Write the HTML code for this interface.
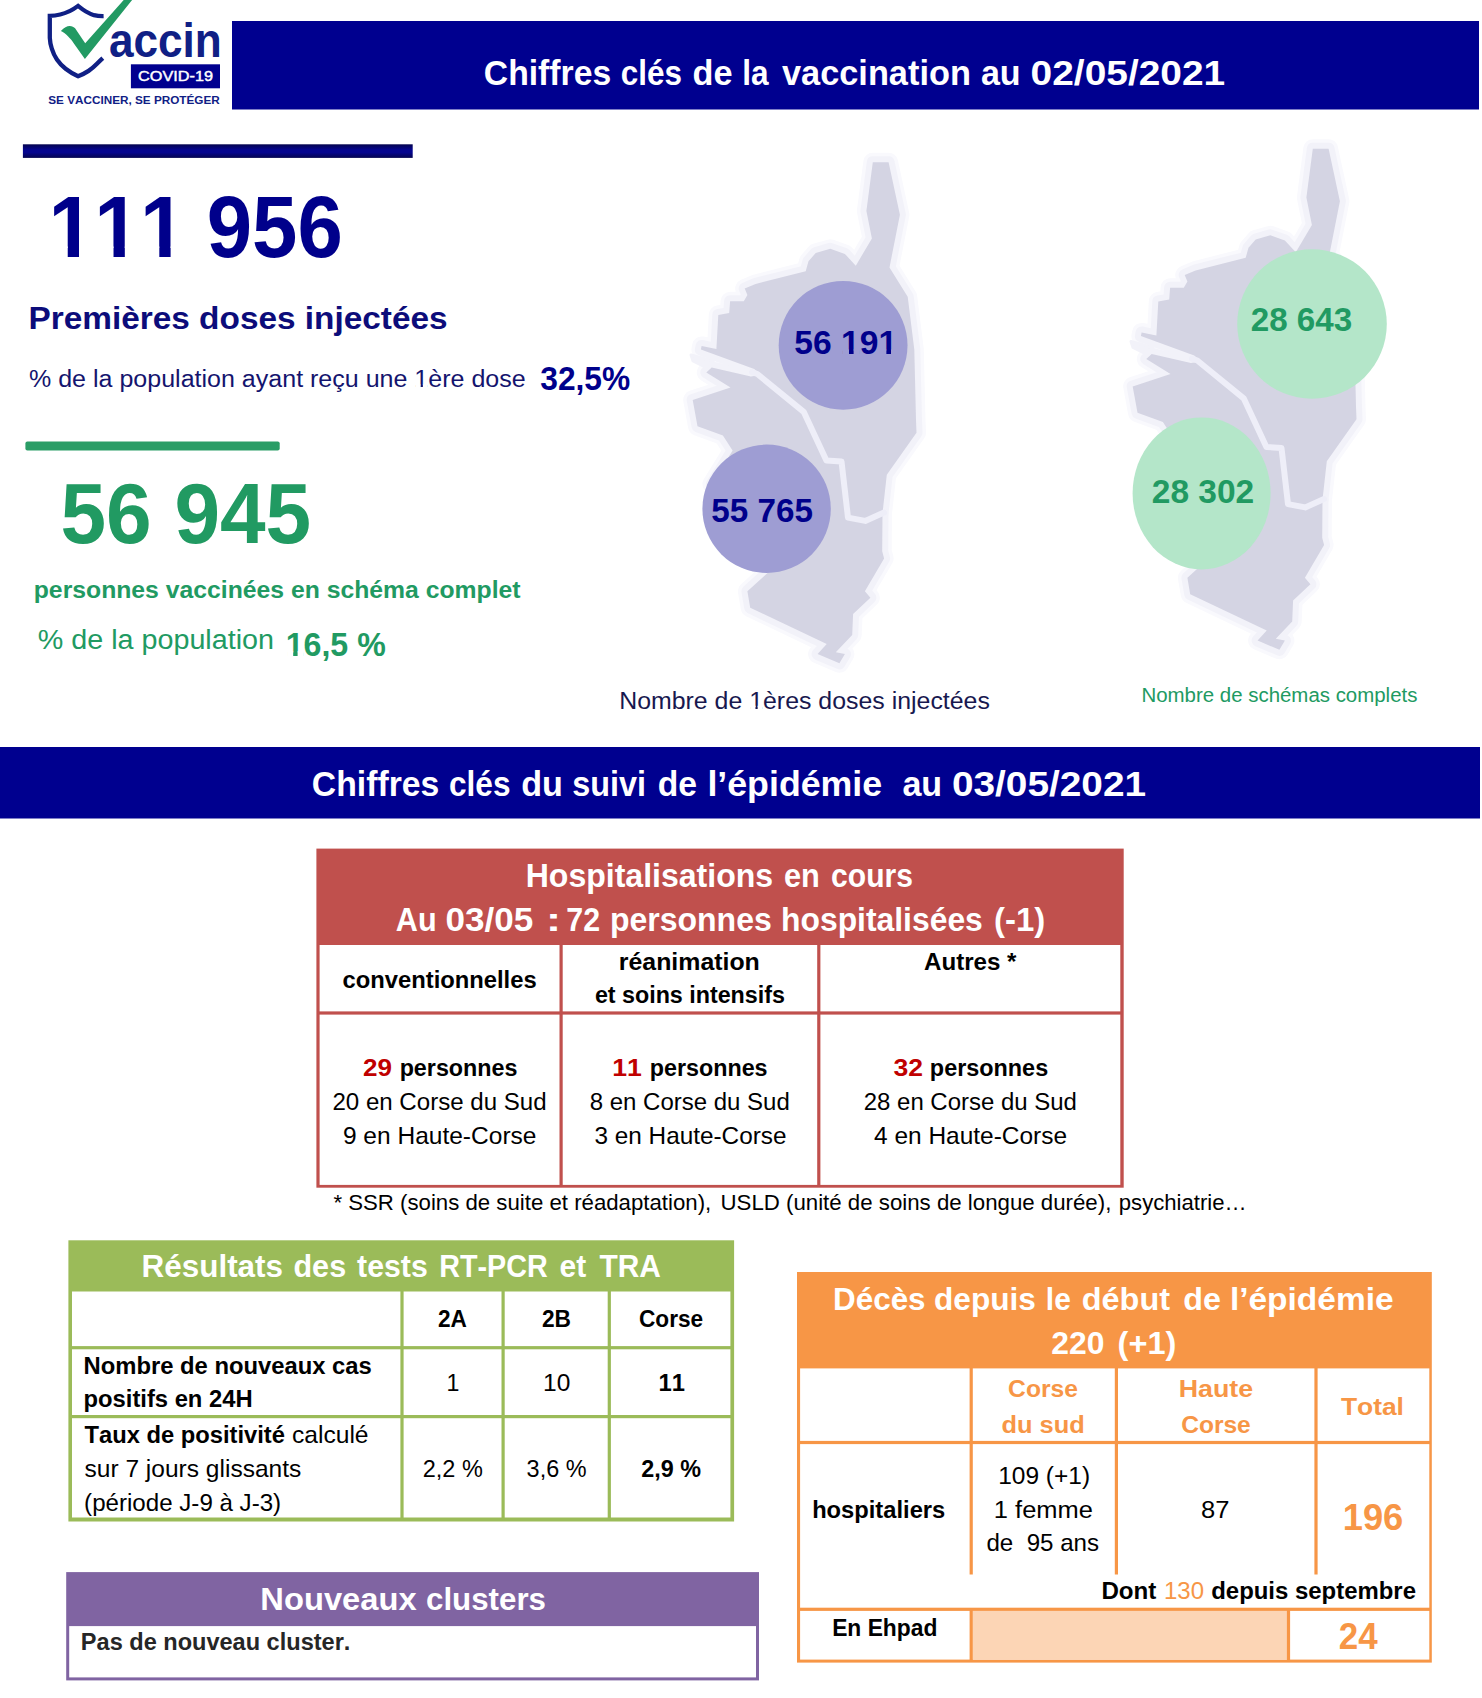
<!DOCTYPE html>
<html lang="fr"><head><meta charset="utf-8"><title>Chiffres clés COVID-19 Corse</title>
<style>
html,body{margin:0;padding:0;background:#fff}
body{width:1482px;height:1698px;overflow:hidden;font-family:"Liberation Sans",sans-serif}
svg{display:block;font-family:"Liberation Sans",sans-serif;font-kerning:none}
text{white-space:pre}
</style></head><body>
<svg width="1482" height="1698" viewBox="0 0 1482 1698">
<rect width="1482" height="1698" fill="#fff"/>

<rect x="232" y="21" width="1247" height="88.5" fill="#00008f"/>
<rect x="0" y="747" width="1480" height="71.5" fill="#00008f"/>
<linearGradient id="gbar" x1="0" y1="0" x2="0" y2="1"><stop offset="0" stop-color="#04044e"/><stop offset="0.4" stop-color="#05058e"/><stop offset="0.6" stop-color="#05058e"/><stop offset="1" stop-color="#04044e"/></linearGradient>
<rect x="22.9" y="144.3" width="389.8" height="13.6" fill="url(#gbar)"/>
<rect x="25.4" y="441.6" width="254.3" height="8.9" rx="2" fill="#2a9d66"/>
<!-- logo -->
<path d="M103.6 16.2 C100 16.3 97 16 94 15.2 C91 14.3 88.5 13 85.9 11.5 C83 9.8 80.5 7.8 78.1 5.9 C74 9 67 13 60.2 14.5 C56 15.5 53 15.8 49.8 15.9 L49.8 37.8 C50 42 50.6 45 51.8 48.6 C53 52.5 54.5 56 56.9 59.4 C59.3 62.8 62 66 65.6 68.8 C69 71.5 73 74 78.1 76.2 C82 74.7 85.5 73 88.6 70.9 C91.5 69 94.3 66.6 96.7 64.1 C98.8 62 100.8 60 102.8 58.2" fill="none" stroke="#102085" stroke-width="4.3" stroke-linejoin="miter" stroke-miterlimit="6" stroke-linecap="butt"/>
<path d="M60.9 31 C64 27.5 67 26 69.7 26 C72 26 74 27 75.1 28.3 L85.2 43.2 L123.7 0 L132.1 0 L84.9 59 L73.7 43.2 C71 39 66 33.5 60.9 31 Z" fill="#229a63"/>
<rect x="130.9" y="64.3" width="89.1" height="24" fill="#00008f"/>
<!-- maps -->
<defs><g id="corse">
<polygon points="872.8,162.2 888.6,162.2 899.9,214.7 889.5,267.5 907.7,296.7 914.3,349.5 916.0,420.0 916.5,432.8 886.8,474.7 882.5,513.3 865.2,520.9 848.0,517.6 841.5,461.5 826.4,460.4 803.7,411.8 759.0,373.2 754.2,369.1 700.9,349.6 701.6,345.9 716.4,349.1 718.3,314.9 729.2,313.1 730.1,301.2 743.8,301.2 747.4,294.9 744.7,288.5 755.6,283.9 805.7,271.2 808.5,261.2 815.7,253.0 830.3,248.8 844.9,253.9 855.8,265.7 871.9,238.4 866.4,211.1" fill="#f9f9fd" stroke="#f9f9fd" stroke-width="19" stroke-linejoin="round"/>
<polygon points="711.7,367.4 750.9,376.6 757.3,375.5 803.7,411.8 826.4,460.4 841.5,461.5 848.0,517.6 865.2,520.9 882.5,513.3 882.2,551.2 884.1,558.5 864.9,591.3 870.4,597.7 853.1,614.1 852.2,635.0 835.8,652.3 844.9,654.1 839.4,663.3 817.6,654.1 826.7,644.1 750.2,607.7 747.4,591.3 768.4,572.2 740.0,525.0 712.0,484.0 732.6,450.6 722.9,435.5 697.5,426.3 692.7,399.9 730.5,387.5 706.3,372.5" fill="#f9f9fd" stroke="#f9f9fd" stroke-width="19" stroke-linejoin="round"/>
<polygon points="691,355 713,361 713,371 693,361" fill="#f2f2f9" stroke="#f2f2f9" stroke-width="3" stroke-linejoin="round"/>
<polygon points="872.8,162.2 888.6,162.2 899.9,214.7 889.5,267.5 907.7,296.7 914.3,349.5 916.0,420.0 916.5,432.8 886.8,474.7 882.5,513.3 865.2,520.9 848.0,517.6 841.5,461.5 826.4,460.4 803.7,411.8 759.0,373.2 754.2,369.1 700.9,349.6 701.6,345.9 716.4,349.1 718.3,314.9 729.2,313.1 730.1,301.2 743.8,301.2 747.4,294.9 744.7,288.5 755.6,283.9 805.7,271.2 808.5,261.2 815.7,253.0 830.3,248.8 844.9,253.9 855.8,265.7 871.9,238.4 866.4,211.1" fill="#f2f2f9" stroke="#f2f2f9" stroke-width="12" stroke-linejoin="round"/>
<polygon points="711.7,367.4 750.9,376.6 757.3,375.5 803.7,411.8 826.4,460.4 841.5,461.5 848.0,517.6 865.2,520.9 882.5,513.3 882.2,551.2 884.1,558.5 864.9,591.3 870.4,597.7 853.1,614.1 852.2,635.0 835.8,652.3 844.9,654.1 839.4,663.3 817.6,654.1 826.7,644.1 750.2,607.7 747.4,591.3 768.4,572.2 740.0,525.0 712.0,484.0 732.6,450.6 722.9,435.5 697.5,426.3 692.7,399.9 730.5,387.5 706.3,372.5" fill="#f2f2f9" stroke="#f2f2f9" stroke-width="12" stroke-linejoin="round"/>
<polygon points="872.8,162.2 888.6,162.2 899.9,214.7 889.5,267.5 907.7,296.7 914.3,349.5 916.0,420.0 916.5,432.8 886.8,474.7 882.5,513.3 865.2,520.9 848.0,517.6 841.5,461.5 826.4,460.4 803.7,411.8 759.0,373.2 754.2,369.1 700.9,349.6 701.6,345.9 716.4,349.1 718.3,314.9 729.2,313.1 730.1,301.2 743.8,301.2 747.4,294.9 744.7,288.5 755.6,283.9 805.7,271.2 808.5,261.2 815.7,253.0 830.3,248.8 844.9,253.9 855.8,265.7 871.9,238.4 866.4,211.1" fill="#d4d4e3"/>
<polygon points="711.7,367.4 750.9,376.6 757.3,375.5 803.7,411.8 826.4,460.4 841.5,461.5 848.0,517.6 865.2,520.9 882.5,513.3 882.2,551.2 884.1,558.5 864.9,591.3 870.4,597.7 853.1,614.1 852.2,635.0 835.8,652.3 844.9,654.1 839.4,663.3 817.6,654.1 826.7,644.1 750.2,607.7 747.4,591.3 768.4,572.2 740.0,525.0 712.0,484.0 732.6,450.6 722.9,435.5 697.5,426.3 692.7,399.9 730.5,387.5 706.3,372.5" fill="#d4d4e3"/>
<polyline points="752.0,372.2 757.3,374.0 803.7,411.8 826.4,460.4 841.5,461.5 848.0,517.6 865.2,520.9 884.0,512.6" fill="none" stroke="#eeeef8" stroke-width="6" stroke-linejoin="round" stroke-linecap="round"/>
</g></defs>
<use href="#corse"/>
<use href="#corse" transform="translate(440,-13.5)"/>
<circle cx="843.1" cy="345.3" r="64.4" fill="#9e9dd3"/>
<circle cx="766.6" cy="508.8" r="64.2" fill="#9e9dd3"/>
<circle cx="1312" cy="324" r="74.8" fill="#b4e6c9"/>
<ellipse cx="1201.6" cy="493.4" rx="69" ry="76" fill="#b4e6c9"/>
<!-- red table -->
<rect x="316.4" y="848.6" width="807.3" height="339.1" fill="#c0504d"/>
<rect x="319.6" y="945" width="800.7" height="239.9" fill="#fff"/>
<rect x="559.5" y="945.0" width="3.2" height="241.0" fill="#c0504d"/><rect x="817.2" y="945.0" width="3.2" height="241.0" fill="#c0504d"/><rect x="318.0" y="1011.4" width="804.0" height="3.2" fill="#c0504d"/>
<!-- green table -->
<rect x="68.4" y="1240.3" width="665.7" height="281.2" fill="#9bbb59"/>
<rect x="72" y="1291.5" width="658.4" height="226" fill="#fff"/>
<rect x="400.4" y="1291.0" width="3.2" height="229.0" fill="#9bbb59"/><rect x="501.5" y="1291.0" width="3.2" height="229.0" fill="#9bbb59"/><rect x="607.7" y="1291.0" width="3.2" height="229.0" fill="#9bbb59"/><rect x="70.0" y="1346.1" width="663.0" height="3.2" fill="#9bbb59"/><rect x="70.0" y="1415.0" width="663.0" height="3.2" fill="#9bbb59"/>
<!-- purple -->
<rect x="66.2" y="1572.1" width="692.8" height="108.3" fill="#8064a2"/>
<rect x="69.2" y="1626.1" width="686.8" height="51.3" fill="#fff"/>
<!-- orange -->
<rect x="797" y="1272" width="634.8" height="390.6" fill="#f79646"/>
<rect x="800.1" y="1368.4" width="629.2" height="291.2" fill="#fff"/>
<rect x="972.7" y="1610.9" width="314.5" height="48.7" fill="#fcd5b5"/>
<rect x="969.6" y="1368.0" width="3.2" height="206.5" fill="#f79646"/><rect x="1114.8" y="1368.0" width="3.2" height="206.5" fill="#f79646"/><rect x="1314.4" y="1368.0" width="3.2" height="206.5" fill="#f79646"/><rect x="969.6" y="1609.0" width="3.2" height="51.0" fill="#f79646"/><rect x="1286.9" y="1609.0" width="3.2" height="51.0" fill="#f79646"/><rect x="799.0" y="1440.9" width="631.0" height="3.2" fill="#f79646"/><rect x="799.0" y="1607.7" width="631.0" height="3.2" fill="#f79646"/>

<defs><clipPath id="nf15"><path clip-rule="evenodd" d="M0 0H1482V1698H0ZM52.05 246.55H67.73V257.50H52.05ZM79.02 246.55H93.66V257.50H79.02ZM97.84 246.55H113.52V257.50H97.84ZM124.82 246.55H139.45V257.50H124.82ZM143.63 246.55H159.31V257.50H143.63ZM170.61 246.55H185.24V257.50H170.61Z"/></clipPath><clipPath id="nf18"><path clip-rule="evenodd" d="M0 0H1482V1698H0ZM415.78 384.44H420.66V388.20H415.78ZM422.88 384.44H427.57V388.20H422.88Z"/></clipPath><clipPath id="nf23"><path clip-rule="evenodd" d="M0 0H1482V1698H0ZM287.07 651.33H293.19V656.80H287.07ZM297.60 651.33H303.31V656.80H297.60Z"/></clipPath><clipPath id="nf24"><path clip-rule="evenodd" d="M0 0H1482V1698H0ZM842.57 349.43H848.98V354.80H842.57ZM853.59 349.43H859.57V354.80H853.59ZM879.98 349.43H886.38V354.80H879.98ZM890.99 349.43H896.97V354.80H890.99Z"/></clipPath><clipPath id="nf26"><path clip-rule="evenodd" d="M0 0H1482V1698H0ZM750.59 705.76H755.45V709.60H750.59ZM757.65 705.76H762.32V709.60H757.65Z"/></clipPath></defs>
<text x="483.85" y="84.50" font-size="35.60" font-weight="bold" fill="#fff" textLength="127.29" lengthAdjust="spacingAndGlyphs" xml:space="preserve">Chiffres</text>
<text x="620.82" y="84.50" font-size="35.60" font-weight="bold" fill="#fff" textLength="61.18" lengthAdjust="spacingAndGlyphs" xml:space="preserve">clés</text>
<text x="692.54" y="84.50" font-size="35.60" font-weight="bold" fill="#fff" textLength="40.02" lengthAdjust="spacingAndGlyphs" xml:space="preserve">de</text>
<text x="742.23" y="84.50" font-size="35.60" font-weight="bold" fill="#fff" textLength="26.30" lengthAdjust="spacingAndGlyphs" xml:space="preserve">la</text>
<text x="782.00" y="84.50" font-size="35.60" font-weight="bold" fill="#fff" textLength="188.87" lengthAdjust="spacingAndGlyphs" xml:space="preserve">vaccination</text>
<text x="980.94" y="84.50" font-size="35.60" font-weight="bold" fill="#fff" textLength="39.71" lengthAdjust="spacingAndGlyphs" xml:space="preserve">au</text>
<text x="1030.61" y="84.50" font-size="35.60" font-weight="bold" fill="#fff" textLength="194.65" lengthAdjust="spacingAndGlyphs" xml:space="preserve">02/05/2021</text>
<text x="311.85" y="795.60" font-size="35.40" font-weight="bold" fill="#fff" textLength="127.50" lengthAdjust="spacingAndGlyphs" xml:space="preserve">Chiffres</text>
<text x="449.01" y="795.60" font-size="35.40" font-weight="bold" fill="#fff" textLength="61.50" lengthAdjust="spacingAndGlyphs" xml:space="preserve">clés</text>
<text x="521.13" y="795.60" font-size="35.40" font-weight="bold" fill="#fff" textLength="41.73" lengthAdjust="spacingAndGlyphs" xml:space="preserve">du</text>
<text x="572.29" y="795.60" font-size="35.40" font-weight="bold" fill="#fff" textLength="73.79" lengthAdjust="spacingAndGlyphs" xml:space="preserve">suivi</text>
<text x="657.75" y="795.60" font-size="35.40" font-weight="bold" fill="#fff" textLength="39.30" lengthAdjust="spacingAndGlyphs" xml:space="preserve">de</text>
<text x="707.38" y="795.60" font-size="35.40" font-weight="bold" fill="#fff" textLength="174.81" lengthAdjust="spacingAndGlyphs" xml:space="preserve">l’épidémie</text>
<text x="902.44" y="795.60" font-size="35.40" font-weight="bold" fill="#fff" textLength="39.72" lengthAdjust="spacingAndGlyphs" xml:space="preserve">au</text>
<text x="951.90" y="795.60" font-size="35.40" font-weight="bold" fill="#fff" textLength="194.25" lengthAdjust="spacingAndGlyphs" xml:space="preserve">03/05/2021</text>
<text x="48.51" y="256.50" font-size="87.70" font-weight="bold" fill="#00008b" textLength="137.38" lengthAdjust="spacingAndGlyphs" xml:space="preserve" clip-path="url(#nf15)">111</text>
<text x="206.71" y="256.50" font-size="87.70" font-weight="bold" fill="#00008b" textLength="136.06" lengthAdjust="spacingAndGlyphs" xml:space="preserve">956</text>
<text x="28.46" y="328.50" font-size="31.20" font-weight="bold" fill="#0c0c7a" textLength="419.21" lengthAdjust="spacingAndGlyphs" xml:space="preserve">Premières doses injectées</text>
<text x="29.00" y="387.20" font-size="23.50" font-weight="normal" fill="#14146e" textLength="496.67" lengthAdjust="spacingAndGlyphs" xml:space="preserve" clip-path="url(#nf18)">% de la population ayant reçu une 1ère dose</text>
<text x="540.30" y="390.00" font-size="33.60" font-weight="bold" fill="#00008b" textLength="89.91" lengthAdjust="spacingAndGlyphs" xml:space="preserve">32,5%</text>
<text x="60.47" y="543.10" font-size="84.80" font-weight="bold" fill="#219a62" textLength="250.72" lengthAdjust="spacingAndGlyphs" xml:space="preserve">56 945</text>
<text x="33.75" y="598.00" font-size="23.50" font-weight="bold" fill="#219a62" textLength="486.87" lengthAdjust="spacingAndGlyphs" xml:space="preserve">personnes vaccinées en schéma complet</text>
<text x="37.80" y="649.30" font-size="27.00" font-weight="normal" fill="#219a62" textLength="236.18" lengthAdjust="spacingAndGlyphs" xml:space="preserve">% de la population</text>
<text x="285.69" y="655.80" font-size="34.00" font-weight="bold" fill="#219a62" textLength="100.03" lengthAdjust="spacingAndGlyphs" xml:space="preserve" clip-path="url(#nf23)">16,5 %</text>
<text x="794.38" y="353.80" font-size="33.00" font-weight="bold" fill="#00008b" textLength="102.85" lengthAdjust="spacingAndGlyphs" xml:space="preserve" clip-path="url(#nf24)">56 191</text>
<text x="711.29" y="522.40" font-size="33.00" font-weight="bold" fill="#00008b" textLength="101.66" lengthAdjust="spacingAndGlyphs" xml:space="preserve">55 765</text>
<text x="619.18" y="708.60" font-size="24.60" font-weight="normal" fill="#18184f" textLength="370.72" lengthAdjust="spacingAndGlyphs" xml:space="preserve" clip-path="url(#nf26)">Nombre de 1ères doses injectées</text>
<text x="1250.69" y="331.30" font-size="33.00" font-weight="bold" fill="#219a62" textLength="101.56" lengthAdjust="spacingAndGlyphs" xml:space="preserve">28 643</text>
<text x="1151.78" y="503.00" font-size="33.00" font-weight="bold" fill="#219a62" textLength="102.47" lengthAdjust="spacingAndGlyphs" xml:space="preserve">28 302</text>
<text x="1141.45" y="702.20" font-size="19.40" font-weight="normal" fill="#219a62" textLength="275.99" lengthAdjust="spacingAndGlyphs" xml:space="preserve">Nombre de schémas complets</text>
<text x="108.97" y="57.00" font-size="47.40" font-weight="bold" fill="#102085" textLength="112.85" lengthAdjust="spacingAndGlyphs" xml:space="preserve">accin</text>
<text x="138.10" y="81.00" font-size="14.70" font-weight="normal" fill="#fff" textLength="74.89" lengthAdjust="spacingAndGlyphs" xml:space="preserve" stroke="#fff" stroke-width="0.45">COVID-19</text>
<text x="48.30" y="103.60" font-size="11.40" font-weight="bold" fill="#102085" textLength="171.43" lengthAdjust="spacingAndGlyphs" xml:space="preserve">SE VACCINER, SE PROTÉGER</text>
<text x="525.70" y="886.90" font-size="33.80" font-weight="bold" fill="#fff" textLength="247.45" lengthAdjust="spacingAndGlyphs" xml:space="preserve">Hospitalisations</text>
<text x="783.89" y="886.90" font-size="33.80" font-weight="bold" fill="#fff" textLength="35.91" lengthAdjust="spacingAndGlyphs" xml:space="preserve">en</text>
<text x="831.11" y="886.90" font-size="33.80" font-weight="bold" fill="#fff" textLength="81.80" lengthAdjust="spacingAndGlyphs" xml:space="preserve">cours</text>
<text x="395.80" y="931.30" font-size="33.80" font-weight="bold" fill="#fff" textLength="40.79" lengthAdjust="spacingAndGlyphs" xml:space="preserve">Au</text>
<text x="445.46" y="931.30" font-size="33.80" font-weight="bold" fill="#fff" textLength="87.76" lengthAdjust="spacingAndGlyphs" xml:space="preserve">03/05</text>
<text x="545.66" y="931.30" font-size="33.80" font-weight="bold" fill="#fff" textLength="15.53" lengthAdjust="spacingAndGlyphs" xml:space="preserve">:</text>
<text x="566.30" y="931.30" font-size="33.80" font-weight="bold" fill="#fff" textLength="33.82" lengthAdjust="spacingAndGlyphs" xml:space="preserve">72</text>
<text x="609.91" y="931.30" font-size="33.80" font-weight="bold" fill="#fff" textLength="161.85" lengthAdjust="spacingAndGlyphs" xml:space="preserve">personnes</text>
<text x="781.01" y="931.30" font-size="33.80" font-weight="bold" fill="#fff" textLength="201.84" lengthAdjust="spacingAndGlyphs" xml:space="preserve">hospitalisées</text>
<text x="994.03" y="931.30" font-size="33.80" font-weight="bold" fill="#fff" textLength="51.20" lengthAdjust="spacingAndGlyphs" xml:space="preserve">(-1)</text>
<text x="342.50" y="987.50" font-size="24.60" font-weight="bold" fill="#000" textLength="194.16" lengthAdjust="spacingAndGlyphs" xml:space="preserve">conventionnelles</text>
<text x="618.79" y="969.60" font-size="24.60" font-weight="bold" fill="#000" textLength="141.05" lengthAdjust="spacingAndGlyphs" xml:space="preserve">réanimation</text>
<text x="594.90" y="1002.70" font-size="24.60" font-weight="bold" fill="#000" textLength="190.04" lengthAdjust="spacingAndGlyphs" xml:space="preserve">et soins intensifs</text>
<text x="924.00" y="970.40" font-size="24.60" font-weight="bold" fill="#000" textLength="92.48" lengthAdjust="spacingAndGlyphs" xml:space="preserve">Autres *</text>
<text x="362.90" y="1076.20" font-size="24.60" font-weight="bold" fill="#c00000" textLength="29.02" lengthAdjust="spacingAndGlyphs" xml:space="preserve">29</text>
<text x="399.65" y="1076.20" font-size="24.60" font-weight="bold" fill="#000" textLength="117.79" lengthAdjust="spacingAndGlyphs" xml:space="preserve">personnes</text>
<text x="332.42" y="1110.20" font-size="24.60" font-weight="normal" fill="#000" textLength="214.24" lengthAdjust="spacingAndGlyphs" xml:space="preserve">20 en Corse du Sud</text>
<text x="342.90" y="1143.90" font-size="24.60" font-weight="normal" fill="#000" textLength="193.57" lengthAdjust="spacingAndGlyphs" xml:space="preserve">9 en Haute-Corse</text>
<text x="612.32" y="1076.20" font-size="24.60" font-weight="bold" fill="#c00000" textLength="29.62" lengthAdjust="spacingAndGlyphs" xml:space="preserve">11</text>
<text x="649.75" y="1076.20" font-size="24.60" font-weight="bold" fill="#000" textLength="117.79" lengthAdjust="spacingAndGlyphs" xml:space="preserve">personnes</text>
<text x="589.72" y="1110.20" font-size="24.60" font-weight="normal" fill="#000" textLength="200.04" lengthAdjust="spacingAndGlyphs" xml:space="preserve">8 en Corse du Sud</text>
<text x="594.50" y="1143.90" font-size="24.60" font-weight="normal" fill="#000" textLength="191.97" lengthAdjust="spacingAndGlyphs" xml:space="preserve">3 en Haute-Corse</text>
<text x="893.50" y="1076.20" font-size="24.60" font-weight="bold" fill="#c00000" textLength="29.53" lengthAdjust="spacingAndGlyphs" xml:space="preserve">32</text>
<text x="929.85" y="1076.20" font-size="24.60" font-weight="bold" fill="#000" textLength="118.30" lengthAdjust="spacingAndGlyphs" xml:space="preserve">personnes</text>
<text x="863.73" y="1110.20" font-size="24.60" font-weight="normal" fill="#000" textLength="213.24" lengthAdjust="spacingAndGlyphs" xml:space="preserve">28 en Corse du Sud</text>
<text x="874.10" y="1143.90" font-size="24.60" font-weight="normal" fill="#000" textLength="192.97" lengthAdjust="spacingAndGlyphs" xml:space="preserve">4 en Haute-Corse</text>
<text x="333.40" y="1209.90" font-size="21.60" font-weight="normal" fill="#000" textLength="377.83" lengthAdjust="spacingAndGlyphs" xml:space="preserve">* SSR (soins de suite et réadaptation),</text>
<text x="720.47" y="1209.90" font-size="21.60" font-weight="normal" fill="#000" textLength="390.86" lengthAdjust="spacingAndGlyphs" xml:space="preserve">USLD (unité de soins de longue durée),</text>
<text x="1118.78" y="1209.90" font-size="21.60" font-weight="normal" fill="#000" textLength="127.88" lengthAdjust="spacingAndGlyphs" xml:space="preserve">psychiatrie…</text>
<text x="141.55" y="1277.20" font-size="32.20" font-weight="bold" fill="#fff" textLength="141.53" lengthAdjust="spacingAndGlyphs" xml:space="preserve">Résultats</text>
<text x="293.45" y="1277.20" font-size="32.20" font-weight="bold" fill="#fff" textLength="52.71" lengthAdjust="spacingAndGlyphs" xml:space="preserve">des</text>
<text x="357.10" y="1277.20" font-size="32.20" font-weight="bold" fill="#fff" textLength="70.65" lengthAdjust="spacingAndGlyphs" xml:space="preserve">tests</text>
<text x="439.22" y="1277.20" font-size="32.20" font-weight="bold" fill="#fff" textLength="108.50" lengthAdjust="spacingAndGlyphs" xml:space="preserve">RT-PCR</text>
<text x="559.57" y="1277.20" font-size="32.20" font-weight="bold" fill="#fff" textLength="26.67" lengthAdjust="spacingAndGlyphs" xml:space="preserve">et</text>
<text x="599.50" y="1277.20" font-size="32.20" font-weight="bold" fill="#fff" textLength="61.43" lengthAdjust="spacingAndGlyphs" xml:space="preserve">TRA</text>
<text x="438.00" y="1326.60" font-size="24.60" font-weight="bold" fill="#000" textLength="28.98" lengthAdjust="spacingAndGlyphs" xml:space="preserve">2A</text>
<text x="541.90" y="1326.60" font-size="24.60" font-weight="bold" fill="#000" textLength="29.10" lengthAdjust="spacingAndGlyphs" xml:space="preserve">2B</text>
<text x="638.98" y="1326.60" font-size="24.60" font-weight="bold" fill="#000" textLength="64.14" lengthAdjust="spacingAndGlyphs" xml:space="preserve">Corse</text>
<text x="83.53" y="1373.60" font-size="24.60" font-weight="bold" fill="#000" textLength="288.32" lengthAdjust="spacingAndGlyphs" xml:space="preserve">Nombre de nouveaux cas</text>
<text x="83.53" y="1407.30" font-size="24.60" font-weight="bold" fill="#000" textLength="169.10" lengthAdjust="spacingAndGlyphs" xml:space="preserve">positifs en 24H</text>
<text x="446.56" y="1391.10" font-size="24.60" font-weight="normal" fill="#000" textLength="12.88" lengthAdjust="spacingAndGlyphs" xml:space="preserve">1</text>
<text x="543.10" y="1391.10" font-size="24.60" font-weight="normal" fill="#000" textLength="27.27" lengthAdjust="spacingAndGlyphs" xml:space="preserve">10</text>
<text x="658.43" y="1391.10" font-size="24.60" font-weight="bold" fill="#000" textLength="26.42" lengthAdjust="spacingAndGlyphs" xml:space="preserve">11</text>
<text x="84.50" y="1443.20" font-size="24.60" font-weight="bold" fill="#000" textLength="200.45" lengthAdjust="spacingAndGlyphs" xml:space="preserve">Taux de positivité</text>
<text x="291.90" y="1443.20" font-size="24.60" font-weight="normal" fill="#000" textLength="76.68" lengthAdjust="spacingAndGlyphs" xml:space="preserve">calculé</text>
<text x="84.50" y="1477.00" font-size="24.60" font-weight="normal" fill="#000" textLength="216.80" lengthAdjust="spacingAndGlyphs" xml:space="preserve">sur 7 jours glissants</text>
<text x="84.12" y="1510.70" font-size="24.60" font-weight="normal" fill="#000" textLength="197.05" lengthAdjust="spacingAndGlyphs" xml:space="preserve">(période J-9 à J-3)</text>
<text x="422.74" y="1477.00" font-size="24.60" font-weight="normal" fill="#000" textLength="60.08" lengthAdjust="spacingAndGlyphs" xml:space="preserve">2,2 %</text>
<text x="526.60" y="1477.00" font-size="24.60" font-weight="normal" fill="#000" textLength="59.93" lengthAdjust="spacingAndGlyphs" xml:space="preserve">3,6 %</text>
<text x="641.30" y="1477.00" font-size="24.60" font-weight="bold" fill="#000" textLength="59.77" lengthAdjust="spacingAndGlyphs" xml:space="preserve">2,9 %</text>
<text x="260.36" y="1609.90" font-size="32.00" font-weight="bold" fill="#fff" textLength="156.24" lengthAdjust="spacingAndGlyphs" xml:space="preserve">Nouveaux</text>
<text x="426.02" y="1609.90" font-size="32.00" font-weight="bold" fill="#fff" textLength="119.96" lengthAdjust="spacingAndGlyphs" xml:space="preserve">clusters</text>
<text x="80.84" y="1650.40" font-size="24.60" font-weight="bold" fill="#262626" textLength="269.55" lengthAdjust="spacingAndGlyphs" xml:space="preserve">Pas de nouveau cluster.</text>
<text x="833.05" y="1309.70" font-size="32.20" font-weight="bold" fill="#fff" textLength="92.53" lengthAdjust="spacingAndGlyphs" xml:space="preserve">Décès</text>
<text x="934.02" y="1309.70" font-size="32.20" font-weight="bold" fill="#fff" textLength="101.87" lengthAdjust="spacingAndGlyphs" xml:space="preserve">depuis</text>
<text x="1045.84" y="1309.70" font-size="32.20" font-weight="bold" fill="#fff" textLength="25.00" lengthAdjust="spacingAndGlyphs" xml:space="preserve">le</text>
<text x="1081.69" y="1309.70" font-size="32.20" font-weight="bold" fill="#fff" textLength="88.32" lengthAdjust="spacingAndGlyphs" xml:space="preserve">début</text>
<text x="1183.30" y="1309.70" font-size="32.20" font-weight="bold" fill="#fff" textLength="37.71" lengthAdjust="spacingAndGlyphs" xml:space="preserve">de</text>
<text x="1229.92" y="1309.70" font-size="32.20" font-weight="bold" fill="#fff" textLength="163.72" lengthAdjust="spacingAndGlyphs" xml:space="preserve">l’épidémie</text>
<text x="1051.21" y="1354.20" font-size="32.20" font-weight="bold" fill="#fff" textLength="53.18" lengthAdjust="spacingAndGlyphs" xml:space="preserve">220</text>
<text x="1117.59" y="1354.20" font-size="32.20" font-weight="bold" fill="#fff" textLength="58.74" lengthAdjust="spacingAndGlyphs" xml:space="preserve">(+1)</text>
<text x="1008.11" y="1396.70" font-size="24.80" font-weight="bold" fill="#f79646" textLength="69.78" lengthAdjust="spacingAndGlyphs" xml:space="preserve">Corse</text>
<text x="1001.48" y="1432.60" font-size="24.80" font-weight="bold" fill="#f79646" textLength="83.20" lengthAdjust="spacingAndGlyphs" xml:space="preserve">du sud</text>
<text x="1178.72" y="1396.70" font-size="24.80" font-weight="bold" fill="#f79646" textLength="74.43" lengthAdjust="spacingAndGlyphs" xml:space="preserve">Haute</text>
<text x="1181.21" y="1432.60" font-size="24.80" font-weight="bold" fill="#f79646" textLength="69.57" lengthAdjust="spacingAndGlyphs" xml:space="preserve">Corse</text>
<text x="1340.90" y="1414.70" font-size="24.80" font-weight="bold" fill="#f79646" textLength="63.05" lengthAdjust="spacingAndGlyphs" xml:space="preserve">Total</text>
<text x="812.14" y="1517.90" font-size="24.60" font-weight="bold" fill="#000" textLength="133.12" lengthAdjust="spacingAndGlyphs" xml:space="preserve">hospitaliers</text>
<text x="998.20" y="1484.30" font-size="24.60" font-weight="normal" fill="#000" textLength="91.88" lengthAdjust="spacingAndGlyphs" xml:space="preserve">109 (+1)</text>
<text x="993.86" y="1517.90" font-size="24.60" font-weight="normal" fill="#000" textLength="99.04" lengthAdjust="spacingAndGlyphs" xml:space="preserve">1 femme</text>
<text x="986.42" y="1551.20" font-size="24.60" font-weight="normal" fill="#000" textLength="112.67" lengthAdjust="spacingAndGlyphs" xml:space="preserve">de  95 ans</text>
<text x="1200.96" y="1517.90" font-size="24.60" font-weight="normal" fill="#000" textLength="28.44" lengthAdjust="spacingAndGlyphs" xml:space="preserve">87</text>
<text x="1342.78" y="1529.80" font-size="36.00" font-weight="bold" fill="#f79646" textLength="60.55" lengthAdjust="spacingAndGlyphs" xml:space="preserve">196</text>
<text x="1101.42" y="1599.30" font-size="24.60" font-weight="bold" fill="#000" textLength="54.97" lengthAdjust="spacingAndGlyphs" xml:space="preserve">Dont</text>
<text x="1164.02" y="1599.30" font-size="24.60" font-weight="normal" fill="#f79646" textLength="40.04" lengthAdjust="spacingAndGlyphs" xml:space="preserve">130</text>
<text x="1211.23" y="1599.30" font-size="24.60" font-weight="bold" fill="#000" textLength="204.73" lengthAdjust="spacingAndGlyphs" xml:space="preserve">depuis septembre</text>
<text x="832.17" y="1635.50" font-size="24.60" font-weight="bold" fill="#000" textLength="105.18" lengthAdjust="spacingAndGlyphs" xml:space="preserve">En Ehpad</text>
<text x="1338.73" y="1648.60" font-size="36.00" font-weight="bold" fill="#f79646" textLength="38.89" lengthAdjust="spacingAndGlyphs" xml:space="preserve">24</text>
</svg>
</body></html>
